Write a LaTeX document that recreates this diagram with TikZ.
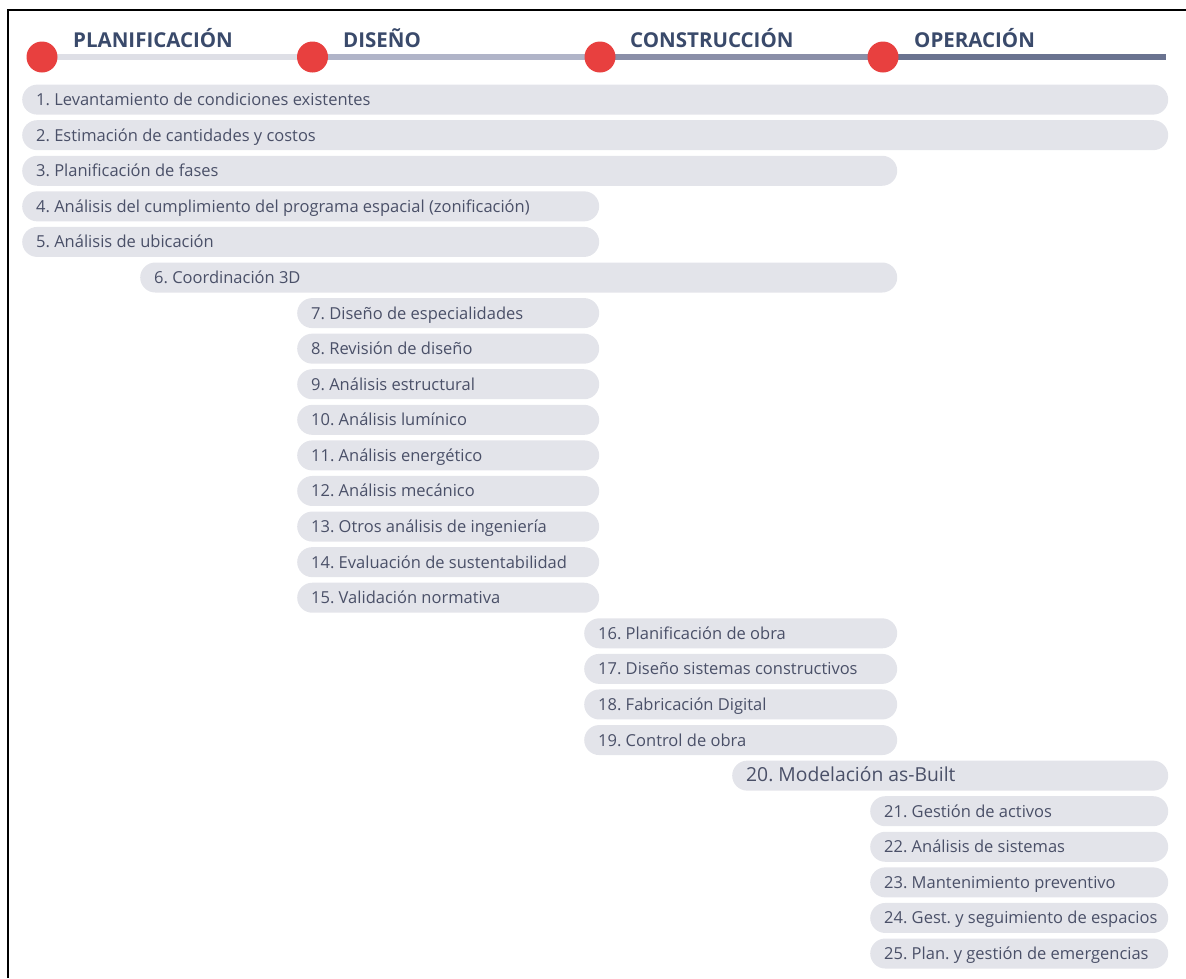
\documentclass[tikz,border=0pt]{standalone}
\usepackage{fontspec}
\setmainfont{Open Sans}
\frenchspacing
\definecolor{pillfill}{HTML}{E3E4EA}
\definecolor{pilltext}{HTML}{4A5068}
\definecolor{headtext}{HTML}{3A4A6B}
\definecolor{dotred}{HTML}{E8403F}
\definecolor{segA}{HTML}{DEDFE6}
\definecolor{segB}{HTML}{B0B4C8}
\definecolor{segC}{HTML}{8A8FA8}
\definecolor{segD}{HTML}{6A7390}
\tikzset{
  pill/.style={fill=pillfill, rounded corners=15pt, minimum height=30pt,
    inner xsep=14pt, inner ysep=0pt, anchor=west,
    text=pilltext, font=\fontsize{16.5}{18}\selectfont,
    text height=14pt, text depth=2pt},
  phase/.style={text=headtext, anchor=base west, inner sep=0pt,
    font=\fontsize{20.5}{22}\selectfont\bfseries},
  reddot/.style={circle, fill=dotred, minimum size=31pt, inner sep=0pt},
  track/.style={line width=6.5pt, line cap=butt}
}
% one bar of the chart: name, left x, right x, row, text
\newcommand\taskbar[5]{%
  \pgfmathsetmacro\tbw{#3-#2-28}%
  \pgfmathsetmacro\tby{99.6+(#4-1)*35.58}%
  \node[pill] (#1) at (#2,\tby) {\makebox[\tbw pt][l]{#5}};%
}
\begin{document}
\begin{tikzpicture}[x=1pt,y=-1pt]
\useasboundingbox (0,0) rectangle (1186,978);
% frame edges
\draw[line width=2.2pt] (8,978) -- (8,10) -- (1186,10);

% phase track
\coordinate (c1) at (42,57);
\coordinate (c2) at (312.5,57);
\coordinate (c3) at (600,57);
\coordinate (c4) at (883,57);
\coordinate (cend) at (1166,57);
\draw[track, segA] (c1) -- (c2);
\draw[track, segB] (c2) -- (c3);
\draw[track, segC] (c3) -- (c4);
\draw[track, segD] (c4) -- (cend);
\node[reddot] (d1) at (c1) {};
\node[reddot] (d2) at (c2) {};
\node[reddot] (d3) at (c3) {};
\node[reddot] (d4) at (c4) {};

\node[phase] (h1) at (73,47) {PLANIFICACIÓN};
\node[phase] (h2) at (343,47) {DISEÑO};
\node[phase] (h3) at (630,47) {CONSTRUCCIÓN};
\node[phase] (h4) at (914,47) {OPERACIÓN};

% tasks
\taskbar{t1}{22}{1168}{1}{1. Levantamiento de condiciones existentes}
\taskbar{t2}{22}{1168}{2}{2. Estimación de cantidades y costos}
\taskbar{t3}{22}{897}{3}{3. Planificación de fases}
\taskbar{t4}{22}{599}{4}{4. Análisis del cumplimiento del programa espacial (zonificación)}
\taskbar{t5}{22}{599}{5}{5. Análisis de ubicación}
\taskbar{t6}{140}{897}{6}{6. Coordinación 3D}
\taskbar{t7}{297}{599}{7}{7. Diseño de especialidades}
\taskbar{t8}{297}{599}{8}{8. Revisión de diseño}
\taskbar{t9}{297}{599}{9}{9. Análisis estructural}
\taskbar{t10}{297}{599}{10}{10. Análisis lumínico}
\taskbar{t11}{297}{599}{11}{11. Análisis energético}
\taskbar{t12}{297}{599}{12}{12. Análisis mecánico}
\taskbar{t13}{297}{599}{13}{13. Otros análisis de ingeniería}
\taskbar{t14}{297}{599}{14}{14. Evaluación de sustentabilidad}
\taskbar{t15}{297}{599}{15}{15. Validación normativa}
\taskbar{t16}{584}{897}{16}{16. Planificación de obra}
\taskbar{t17}{584}{897}{17}{17. Diseño sistemas constructivos}
\taskbar{t18}{584}{897}{18}{18. Fabricación Digital}
\taskbar{t19}{584}{897}{19}{19. Control de obra}
\taskbar{t20}{732}{1168}{20}{\fontsize{19.3}{20}\selectfont 20. Modelación as-Built}
\taskbar{t21}{870}{1168}{21}{21. Gestión de activos}
\taskbar{t22}{870}{1168}{22}{22. Análisis de sistemas}
\taskbar{t23}{870}{1168}{23}{23. Mantenimiento preventivo}
\taskbar{t24}{870}{1168}{24}{24. Gest. y seguimiento de espacios}
\taskbar{t25}{870}{1168}{25}{25. Plan. y gestión de emergencias}
\end{tikzpicture}
\end{document}
